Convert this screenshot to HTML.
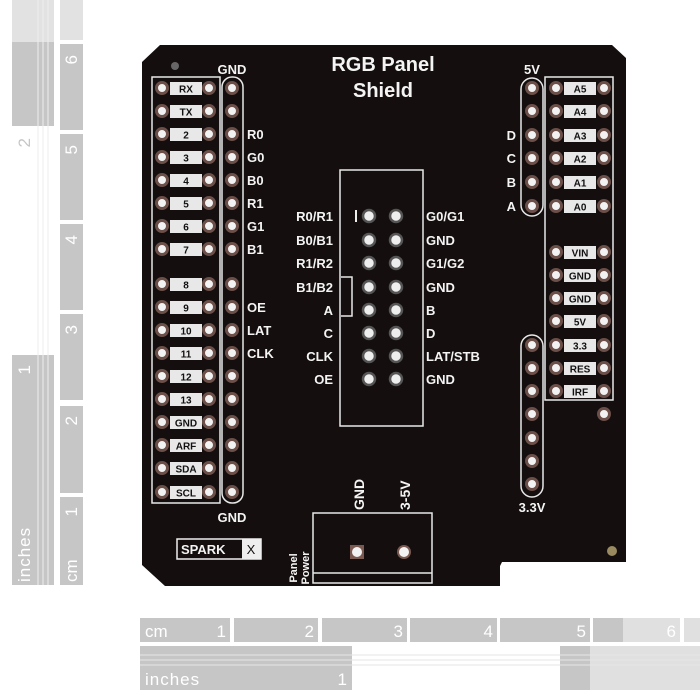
<!DOCTYPE html>
<html><head><meta charset="utf-8"><style>
body{margin:0;width:700px;height:700px;background:#fff;overflow:hidden}
svg{display:block}
text{font-family:"Liberation Sans",sans-serif;font-weight:bold}
.w{fill:#f4f4f4}
.lbl{fill:#111;font-size:10px}
.pin{fill:#f2f2f2;stroke:#6b4f48;stroke-width:3}
.ol{fill:none;stroke:#e8e8e8;stroke-width:1.5}
.rt{fill:#fff;font-size:17px;font-weight:normal}
</style></head><body>
<svg width="700" height="700" viewBox="0 0 700 700">
<rect x="12" y="0" width="42" height="42" fill="#e2e2e2"/>
<rect x="12" y="42" width="42" height="84" fill="#c6c6c6"/>
<rect x="12" y="355" width="42" height="230" fill="#c6c6c6"/>
<rect x="60" y="0" width="23" height="40" fill="#e2e2e2"/>
<rect x="60" y="44" width="23" height="86" fill="#c6c6c6"/>
<rect x="60" y="134" width="23" height="86" fill="#c6c6c6"/>
<rect x="60" y="224" width="23" height="86" fill="#c6c6c6"/>
<rect x="60" y="314" width="23" height="86" fill="#c6c6c6"/>
<rect x="60" y="406" width="23" height="87" fill="#c6c6c6"/>
<rect x="60" y="497" width="23" height="88" fill="#c6c6c6"/>
<g stroke="#eee" stroke-width="1"><line x1="38" y1="0" x2="38" y2="585"/><line x1="43" y1="0" x2="43" y2="585"/><line x1="48" y1="0" x2="48" y2="585"/></g>
<g fill="#fff">
<text transform="translate(77,55) rotate(-90)" text-anchor="end" class="rt">6</text>
<text transform="translate(77,145) rotate(-90)" text-anchor="end" class="rt">5</text>
<text transform="translate(77,235) rotate(-90)" text-anchor="end" class="rt">4</text>
<text transform="translate(77,325) rotate(-90)" text-anchor="end" class="rt">3</text>
<text transform="translate(77,416) rotate(-90)" text-anchor="end" class="rt">2</text>
<text transform="translate(77,507) rotate(-90)" text-anchor="end" class="rt">1</text>
<text transform="translate(77,582) rotate(-90)" class="rt">cm</text>
<text transform="translate(30,365) rotate(-90)" text-anchor="end" class="rt">1</text>
<text transform="translate(30,582) rotate(-90)" class="rt" style="letter-spacing:1px">inches</text>
</g>
<text transform="translate(30,138) rotate(-90)" text-anchor="end" style="fill:#c6c6c6;font-size:17px;font-weight:normal;font-family:'Liberation Sans'">2</text>
<rect x="140" y="618" width="90" height="24" fill="#c6c6c6"/>
<rect x="234" y="618" width="84" height="24" fill="#c6c6c6"/>
<rect x="322" y="618" width="85" height="24" fill="#c6c6c6"/>
<rect x="410" y="618" width="87" height="24" fill="#c6c6c6"/>
<rect x="500" y="618" width="90" height="24" fill="#c6c6c6"/>
<rect x="593" y="618" width="30" height="24" fill="#c6c6c6"/>
<rect x="623" y="618" width="57" height="24" fill="#e0e0e0"/>
<rect x="684" y="618" width="16" height="24" fill="#e0e0e0"/>
<rect x="140" y="646" width="212" height="44" fill="#c6c6c6"/>
<rect x="560" y="646" width="30" height="44" fill="#c6c6c6"/>
<rect x="590" y="646" width="110" height="44" fill="#e0e0e0"/>
<g stroke="#e6e6e6"><line x1="140" y1="655" x2="700" y2="655"/><line x1="140" y1="660" x2="700" y2="660"/><line x1="140" y1="665" x2="700" y2="665"/></g>
<g>
<text x="145" y="637" class="rt">cm</text>
<text x="226" y="637" text-anchor="end" class="rt">1</text>
<text x="314" y="637" text-anchor="end" class="rt">2</text>
<text x="403" y="637" text-anchor="end" class="rt">3</text>
<text x="493" y="637" text-anchor="end" class="rt">4</text>
<text x="586" y="637" text-anchor="end" class="rt">5</text>
<text x="676" y="637" text-anchor="end" class="rt">6</text>
<text x="145" y="685" class="rt" style="letter-spacing:1px">inches</text>
<text x="347" y="685" text-anchor="end" class="rt">1</text>
</g>
<path d="M160,45 L612,45 L626,58 L626,562 L502,562 L500,566 L500,586 L165,586 L142,565 L142,62 Z" fill="#140e0e"/>
<circle cx="175" cy="66" r="4" fill="#666"/>
<circle cx="612" cy="551" r="5" fill="#9a8a60"/>
<text x="383" y="71" text-anchor="middle" class="w" font-size="20">RGB Panel</text>
<text x="383" y="97" text-anchor="middle" class="w" font-size="20">Shield</text>
<rect x="152" y="77" width="68" height="426" class="ol"/>
<rect x="222" y="77" width="21" height="426" rx="10" class="ol"/>
<text x="232" y="74" text-anchor="middle" class="w" font-size="13">GND</text>
<text x="232" y="522" text-anchor="middle" class="w" font-size="13">GND</text>
<g>
<rect x="170" y="82" width="32" height="13" fill="#e8e8e8"/><text x="186" y="92.5" text-anchor="middle" class="lbl">RX</text>
<rect x="170" y="105" width="32" height="13" fill="#e8e8e8"/><text x="186" y="115.5" text-anchor="middle" class="lbl">TX</text>
<rect x="170" y="128" width="32" height="13" fill="#e8e8e8"/><text x="186" y="138.5" text-anchor="middle" class="lbl">2</text>
<rect x="170" y="151" width="32" height="13" fill="#e8e8e8"/><text x="186" y="161.5" text-anchor="middle" class="lbl">3</text>
<rect x="170" y="174" width="32" height="13" fill="#e8e8e8"/><text x="186" y="184.5" text-anchor="middle" class="lbl">4</text>
<rect x="170" y="197" width="32" height="13" fill="#e8e8e8"/><text x="186" y="207.5" text-anchor="middle" class="lbl">5</text>
<rect x="170" y="220" width="32" height="13" fill="#e8e8e8"/><text x="186" y="230.5" text-anchor="middle" class="lbl">6</text>
<rect x="170" y="243" width="32" height="13" fill="#e8e8e8"/><text x="186" y="253.5" text-anchor="middle" class="lbl">7</text>
<rect x="170" y="278" width="32" height="13" fill="#e8e8e8"/><text x="186" y="288.5" text-anchor="middle" class="lbl">8</text>
<rect x="170" y="301" width="32" height="13" fill="#e8e8e8"/><text x="186" y="311.5" text-anchor="middle" class="lbl">9</text>
<rect x="170" y="324" width="32" height="13" fill="#e8e8e8"/><text x="186" y="334.5" text-anchor="middle" class="lbl">10</text>
<rect x="170" y="347" width="32" height="13" fill="#e8e8e8"/><text x="186" y="357.5" text-anchor="middle" class="lbl">11</text>
<rect x="170" y="370" width="32" height="13" fill="#e8e8e8"/><text x="186" y="380.5" text-anchor="middle" class="lbl">12</text>
<rect x="170" y="393" width="32" height="13" fill="#e8e8e8"/><text x="186" y="403.5" text-anchor="middle" class="lbl">13</text>
<rect x="170" y="416" width="32" height="13" fill="#e8e8e8"/><text x="186" y="426.5" text-anchor="middle" class="lbl">GND</text>
<rect x="170" y="439" width="32" height="13" fill="#e8e8e8"/><text x="186" y="449.5" text-anchor="middle" class="lbl">ARF</text>
<rect x="170" y="462" width="32" height="13" fill="#e8e8e8"/><text x="186" y="472.5" text-anchor="middle" class="lbl">SDA</text>
<rect x="170" y="486" width="32" height="13" fill="#e8e8e8"/><text x="186" y="496.5" text-anchor="middle" class="lbl">SCL</text>
</g>
<g class="pin">
<circle cx="162" cy="88" r="5.5"/><circle cx="209" cy="88" r="5.5"/><circle cx="232" cy="88" r="5.5"/>
<circle cx="162" cy="111" r="5.5"/><circle cx="209" cy="111" r="5.5"/><circle cx="232" cy="111" r="5.5"/>
<circle cx="162" cy="134" r="5.5"/><circle cx="209" cy="134" r="5.5"/><circle cx="232" cy="134" r="5.5"/>
<circle cx="162" cy="157" r="5.5"/><circle cx="209" cy="157" r="5.5"/><circle cx="232" cy="157" r="5.5"/>
<circle cx="162" cy="180" r="5.5"/><circle cx="209" cy="180" r="5.5"/><circle cx="232" cy="180" r="5.5"/>
<circle cx="162" cy="203" r="5.5"/><circle cx="209" cy="203" r="5.5"/><circle cx="232" cy="203" r="5.5"/>
<circle cx="162" cy="226" r="5.5"/><circle cx="209" cy="226" r="5.5"/><circle cx="232" cy="226" r="5.5"/>
<circle cx="162" cy="249" r="5.5"/><circle cx="209" cy="249" r="5.5"/><circle cx="232" cy="249" r="5.5"/>
<circle cx="162" cy="284" r="5.5"/><circle cx="209" cy="284" r="5.5"/><circle cx="232" cy="284" r="5.5"/>
<circle cx="162" cy="307" r="5.5"/><circle cx="209" cy="307" r="5.5"/><circle cx="232" cy="307" r="5.5"/>
<circle cx="162" cy="330" r="5.5"/><circle cx="209" cy="330" r="5.5"/><circle cx="232" cy="330" r="5.5"/>
<circle cx="162" cy="353" r="5.5"/><circle cx="209" cy="353" r="5.5"/><circle cx="232" cy="353" r="5.5"/>
<circle cx="162" cy="376" r="5.5"/><circle cx="209" cy="376" r="5.5"/><circle cx="232" cy="376" r="5.5"/>
<circle cx="162" cy="399" r="5.5"/><circle cx="209" cy="399" r="5.5"/><circle cx="232" cy="399" r="5.5"/>
<circle cx="162" cy="422" r="5.5"/><circle cx="209" cy="422" r="5.5"/><circle cx="232" cy="422" r="5.5"/>
<circle cx="162" cy="445" r="5.5"/><circle cx="209" cy="445" r="5.5"/><circle cx="232" cy="445" r="5.5"/>
<circle cx="162" cy="468" r="5.5"/><circle cx="209" cy="468" r="5.5"/><circle cx="232" cy="468" r="5.5"/>
<circle cx="162" cy="492" r="5.5"/><circle cx="209" cy="492" r="5.5"/><circle cx="232" cy="492" r="5.5"/>
</g>
<g class="w" font-size="13">
<text x="247" y="139">R0</text><text x="247" y="162">G0</text><text x="247" y="185">B0</text>
<text x="247" y="208">R1</text><text x="247" y="231">G1</text><text x="247" y="254">B1</text>
<text x="247" y="312">OE</text><text x="247" y="335">LAT</text><text x="247" y="358">CLK</text>
</g>
<rect x="340" y="170" width="83" height="256" class="ol"/>
<path d="M341,277 L352,277 L352,316 L341,316" class="ol"/>
<line x1="356" y1="210" x2="356" y2="222" stroke="#eee" stroke-width="2"/>
<g fill="#eee" stroke="#555" stroke-width="2.5">
<circle cx="369" cy="216" r="6"/><circle cx="396" cy="216" r="6"/>
<circle cx="369" cy="240" r="6"/><circle cx="396" cy="240" r="6"/>
<circle cx="369" cy="263" r="6"/><circle cx="396" cy="263" r="6"/>
<circle cx="369" cy="287" r="6"/><circle cx="396" cy="287" r="6"/>
<circle cx="369" cy="310" r="6"/><circle cx="396" cy="310" r="6"/>
<circle cx="369" cy="333" r="6"/><circle cx="396" cy="333" r="6"/>
<circle cx="369" cy="356" r="6"/><circle cx="396" cy="356" r="6"/>
<circle cx="369" cy="379" r="6"/><circle cx="396" cy="379" r="6"/>
</g>
<g class="w" font-size="13" text-anchor="end">
<text x="333" y="221">R0/R1</text><text x="333" y="245">B0/B1</text><text x="333" y="268">R1/R2</text>
<text x="333" y="292">B1/B2</text><text x="333" y="315">A</text><text x="333" y="338">C</text>
<text x="333" y="361">CLK</text><text x="333" y="384">OE</text>
</g>
<g class="w" font-size="13">
<text x="426" y="221">G0/G1</text><text x="426" y="245">GND</text><text x="426" y="268">G1/G2</text>
<text x="426" y="292">GND</text><text x="426" y="315">B</text><text x="426" y="338">D</text>
<text x="426" y="361">LAT/STB</text><text x="426" y="384">GND</text>
</g>
<text x="532" y="74" text-anchor="middle" class="w" font-size="13">5V</text>
<rect x="521" y="78" width="22" height="138" rx="11" class="ol"/>
<rect x="521" y="335" width="22" height="162" rx="11" class="ol"/>
<rect x="545" y="77" width="68" height="323" class="ol"/>
<g class="w" font-size="13" text-anchor="end">
<text x="516" y="140">D</text><text x="516" y="163">C</text><text x="516" y="187">B</text><text x="516" y="211">A</text>
</g>
<text x="532" y="512" text-anchor="middle" class="w" font-size="13">3.3V</text>
<g>
<rect x="564" y="82" width="32" height="13" fill="#e8e8e8"/><text x="580" y="92.5" text-anchor="middle" class="lbl">A5</text>
<rect x="564" y="105" width="32" height="13" fill="#e8e8e8"/><text x="580" y="115.5" text-anchor="middle" class="lbl">A4</text>
<rect x="564" y="129" width="32" height="13" fill="#e8e8e8"/><text x="580" y="139.5" text-anchor="middle" class="lbl">A3</text>
<rect x="564" y="152" width="32" height="13" fill="#e8e8e8"/><text x="580" y="162.5" text-anchor="middle" class="lbl">A2</text>
<rect x="564" y="176" width="32" height="13" fill="#e8e8e8"/><text x="580" y="186.5" text-anchor="middle" class="lbl">A1</text>
<rect x="564" y="200" width="32" height="13" fill="#e8e8e8"/><text x="580" y="210.5" text-anchor="middle" class="lbl">A0</text>
<rect x="564" y="246" width="32" height="13" fill="#e8e8e8"/><text x="580" y="256.5" text-anchor="middle" class="lbl">VIN</text>
<rect x="564" y="269" width="32" height="13" fill="#e8e8e8"/><text x="580" y="279.5" text-anchor="middle" class="lbl">GND</text>
<rect x="564" y="292" width="32" height="13" fill="#e8e8e8"/><text x="580" y="302.5" text-anchor="middle" class="lbl">GND</text>
<rect x="564" y="315" width="32" height="13" fill="#e8e8e8"/><text x="580" y="325.5" text-anchor="middle" class="lbl">5V</text>
<rect x="564" y="339" width="32" height="13" fill="#e8e8e8"/><text x="580" y="349.5" text-anchor="middle" class="lbl">3.3</text>
<rect x="564" y="362" width="32" height="13" fill="#e8e8e8"/><text x="580" y="372.5" text-anchor="middle" class="lbl">RES</text>
<rect x="564" y="385" width="32" height="13" fill="#e8e8e8"/><text x="580" y="395.5" text-anchor="middle" class="lbl">IRF</text>
</g>
<g class="pin">
<circle cx="532" cy="88" r="5.5"/><circle cx="556" cy="88" r="5.5"/><circle cx="604" cy="88" r="5.5"/>
<circle cx="532" cy="111" r="5.5"/><circle cx="556" cy="111" r="5.5"/><circle cx="604" cy="111" r="5.5"/>
<circle cx="532" cy="135" r="5.5"/><circle cx="556" cy="135" r="5.5"/><circle cx="604" cy="135" r="5.5"/>
<circle cx="532" cy="158" r="5.5"/><circle cx="556" cy="158" r="5.5"/><circle cx="604" cy="158" r="5.5"/>
<circle cx="532" cy="182" r="5.5"/><circle cx="556" cy="182" r="5.5"/><circle cx="604" cy="182" r="5.5"/>
<circle cx="532" cy="206" r="5.5"/><circle cx="556" cy="206" r="5.5"/><circle cx="604" cy="206" r="5.5"/>
<circle cx="556" cy="252" r="5.5"/><circle cx="604" cy="252" r="5.5"/>
<circle cx="556" cy="275" r="5.5"/><circle cx="604" cy="275" r="5.5"/>
<circle cx="556" cy="298" r="5.5"/><circle cx="604" cy="298" r="5.5"/>
<circle cx="556" cy="321" r="5.5"/><circle cx="604" cy="321" r="5.5"/>
<circle cx="532" cy="345" r="5.5"/><circle cx="556" cy="345" r="5.5"/><circle cx="604" cy="345" r="5.5"/>
<circle cx="532" cy="368" r="5.5"/><circle cx="556" cy="368" r="5.5"/><circle cx="604" cy="368" r="5.5"/>
<circle cx="532" cy="391" r="5.5"/><circle cx="556" cy="391" r="5.5"/><circle cx="604" cy="391" r="5.5"/>
<circle cx="532" cy="414" r="5.5"/><circle cx="604" cy="414" r="5.5"/>
<circle cx="532" cy="438" r="5.5"/>
<circle cx="532" cy="461" r="5.5"/>
<circle cx="532" cy="484" r="5.5"/>
</g>
<rect x="313" y="513" width="119" height="70" class="ol"/>
<line x1="313" y1="573" x2="432" y2="573" stroke="#e8e8e8" stroke-width="1.5"/>
<rect x="350" y="545" width="14" height="14" fill="#7a5a50"/>
<circle cx="357" cy="552" r="5" fill="#f2f2f2"/>
<circle cx="404" cy="552" r="7" fill="#7a5a50"/><circle cx="404" cy="552" r="5" fill="#f2f2f2"/>
<text transform="translate(364,510) rotate(-90)" class="w" font-size="14">GND</text>
<text transform="translate(410,510) rotate(-90)" class="w" font-size="14">3-5V</text>
<text transform="translate(297,568) rotate(-90)" text-anchor="middle" class="w" font-size="11">Panel</text>
<text transform="translate(309,568) rotate(-90)" text-anchor="middle" class="w" font-size="11">Power</text>
<rect x="177" y="539" width="84" height="20" fill="none" stroke="#eee" stroke-width="1.5"/>
<rect x="242" y="539" width="19" height="20" fill="#eee"/>
<text x="181" y="554" class="w" font-size="13">SPARK</text>
<text x="251" y="554" text-anchor="middle" font-size="13" fill="#140e0e" style="font-weight:normal">X</text>
</svg>
</body></html>
